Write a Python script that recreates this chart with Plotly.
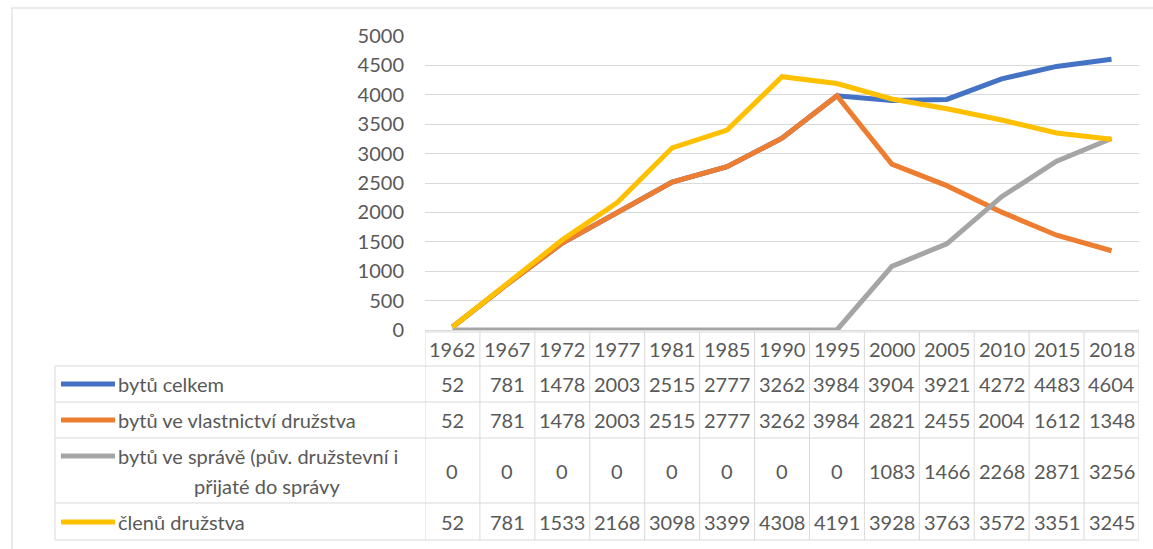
import plotly.graph_objects as go

years = ["1962", "1967", "1972", "1977", "1981", "1985", "1990", "1995",
         "2000", "2005", "2010", "2015", "2018"]
bytu_celkem = [52, 781, 1478, 2003, 2515, 2777, 3262, 3984, 3904, 3921, 4272, 4483, 4604]
bytu_vlastnictvi = [52, 781, 1478, 2003, 2515, 2777, 3262, 3984, 2821, 2455, 2004, 1612, 1348]
bytu_sprava = [0, 0, 0, 0, 0, 0, 0, 0, 1083, 1466, 2268, 2871, 3256]
clenu = [52, 781, 1533, 2168, 3098, 3399, 4308, 4191, 3928, 3763, 3572, 3351, 3245]
names = ["bytů celkem", "bytů ve vlastnictví družstva",
         "bytů ve správě (pův. družstevní i přijaté do správy", "členů družstva"]
y_ticks = [0, 500, 1000, 1500, 2000, 2500, 3000, 3500, 4000, 4500, 5000]

colors = ["#4472C4", "#ED7D31", "#A5A5A5", "#FFC000"]
series = [bytu_celkem, bytu_vlastnictvi, bytu_sprava, clenu]

W, H = 1153, 549
def px(x): return x / W
def py(y): return 1 - y / H

FONT = "Lato"
TXT = "#595959"
GRID = "#d9d9d9"

fig = go.Figure()
for nm, vals, col in zip(names, series, colors):
    fig.add_trace(go.Scatter(x=years, y=vals, mode="lines", name=nm,
                             line=dict(color=col, width=5), showlegend=False))

shapes = []
annotations = []

shapes.append(dict(type="rect", xref="paper", yref="paper", x0=px(12), x1=px(1170),
                   y0=py(570), y1=py(8), line=dict(color="#e3e3e3", width=1.5)))

row_bounds = [366, 402, 438, 503, 540]
row_centers = [384, 420, 471, 522]
tab_left, col_left, tab_right = 55, 425, 1139

shapes.append(dict(type="line", xref="paper", yref="paper", x0=px(col_left), x1=px(tab_right),
                   y0=py(332), y1=py(332), line=dict(color=GRID, width=1)))
for yb in row_bounds:
    shapes.append(dict(type="line", xref="paper", yref="paper", x0=px(tab_left), x1=px(tab_right),
                       y0=py(yb), y1=py(yb), line=dict(color=GRID, width=1)))
shapes.append(dict(type="line", xref="paper", yref="paper", x0=px(tab_left), x1=px(tab_left),
                   y0=py(366), y1=py(540), line=dict(color=GRID, width=1)))
for i in range(len(years) + 1):
    shapes.append(dict(type="line", xref="x", yref="paper", x0=i - 0.5, x1=i - 0.5,
                       y0=py(332), y1=py(540), line=dict(color=GRID, width=1)))

for i, yr in enumerate(years):
    annotations.append(dict(x=i, xref="x", y=py(349), yref="paper", text=yr, showarrow=False,
                            font=dict(family=FONT, size=20, color=TXT), xanchor="center", yanchor="middle"))

for nm, vals, col, yc in zip(names, series, colors, row_centers):
    for i, v in enumerate(vals):
        annotations.append(dict(x=i, xref="x", y=py(yc), yref="paper", text=str(v), showarrow=False,
                                font=dict(family=FONT, size=20, color=TXT), xanchor="center", yanchor="middle"))
    if " i přijaté" in nm:
        first, second = nm.split(" i přijaté")
        first = first + " i"
        second = "přijaté" + second
        ly = 456
        annotations.append(dict(x=px(116), xref="paper", y=py(456), yref="paper", text=first,
                                showarrow=False, font=dict(family=FONT, size=20, color=TXT),
                                xanchor="left", yanchor="middle"))
        annotations.append(dict(x=px(267), xref="paper", y=py(486), yref="paper", text=second,
                                showarrow=False, font=dict(family=FONT, size=20, color=TXT),
                                xanchor="center", yanchor="middle"))
    else:
        ly = yc
        annotations.append(dict(x=px(116), xref="paper", y=py(yc), yref="paper", text=nm,
                                showarrow=False, font=dict(family=FONT, size=20, color=TXT),
                                xanchor="left", yanchor="middle"))
    shapes.append(dict(type="line", xref="paper", yref="paper", x0=px(61), x1=px(115),
                       y0=py(ly), y1=py(ly), line=dict(color=col, width=5)))

fig.update_layout(
    template="none",
    width=W, height=H,
    margin=dict(l=0, r=0, t=0, b=0, pad=0),
    paper_bgcolor="white", plot_bgcolor="white",
    font=dict(family=FONT, size=20, color=TXT),
    xaxis=dict(type="category", range=[-0.5, len(years) - 0.5], domain=[px(col_left), px(tab_right)],
               showticklabels=False, showgrid=False, zeroline=False, showline=False, fixedrange=True,
               automargin=False),
    yaxis=dict(range=[0, 5000], domain=[py(330), py(36)], tickvals=y_ticks, automargin=False,
               showgrid=True, gridcolor=GRID, gridwidth=1, zeroline=True, zerolinecolor=GRID,
               showline=False, ticks="", ticklabelstandoff=20,
               tickfont=dict(family=FONT, size=20, color=TXT)),
    shapes=shapes, annotations=annotations,
)

fig.write_html("out.html", config={"displayModeBar": False},
               post_script="document.body.style.margin='0';document.body.style.overflow='hidden';")
